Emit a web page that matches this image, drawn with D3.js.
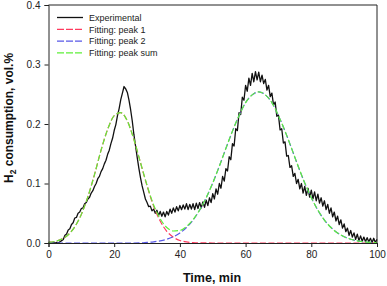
<!DOCTYPE html>
<html><head><meta charset="utf-8">
<script src="https://cdn.jsdelivr.net/npm/d3@7"></script>
<style>
html,body{margin:0;padding:0;background:#fff;}
svg{display:block;font-family:"Liberation Sans",Arial,sans-serif;}
</style></head>
<body>
<svg id="chart" width="387" height="286"></svg>
<script>
// Experimental signal, sampled every 0.5 min from 0 to 100 min
const expStart = 0, expStep = 0.5;
const expValues = [
0.000,0.001,0.000,0.001,0.000,0.001,0.000,0.002,0.004,0.006,
0.013,0.015,0.022,0.024,0.031,0.034,0.042,0.043,0.050,0.052,
0.058,0.059,0.066,0.068,0.074,0.077,0.084,0.088,0.095,0.100,
0.108,0.112,0.120,0.125,0.133,0.139,0.149,0.156,0.167,0.176,
0.189,0.199,0.214,0.226,0.241,0.252,0.263,0.259,0.253,0.240,
0.224,0.205,0.182,0.163,0.144,0.126,0.110,0.096,0.085,0.074,
0.068,0.061,0.062,0.054,0.057,0.050,0.055,0.046,0.053,0.045,
0.052,0.044,0.053,0.047,0.057,0.050,0.059,0.052,0.061,0.054,
0.063,0.056,0.064,0.057,0.066,0.056,0.065,0.057,0.066,0.056,
0.067,0.058,0.068,0.059,0.069,0.060,0.072,0.063,0.076,0.068,
0.083,0.074,0.091,0.082,0.100,0.092,0.112,0.104,0.125,0.121,
0.145,0.140,0.167,0.163,0.192,0.189,0.219,0.216,0.245,0.240,
0.265,0.255,0.277,0.265,0.285,0.271,0.288,0.274,0.287,0.271,
0.282,0.268,0.275,0.257,0.265,0.246,0.252,0.232,0.237,0.213,
0.215,0.190,0.192,0.168,0.170,0.146,0.147,0.127,0.130,0.112,
0.117,0.100,0.107,0.091,0.100,0.084,0.095,0.080,0.092,0.077,
0.089,0.074,0.086,0.071,0.082,0.067,0.076,0.062,0.071,0.056,
0.065,0.050,0.059,0.044,0.052,0.037,0.045,0.031,0.039,0.025,
0.032,0.019,0.025,0.013,0.021,0.010,0.017,0.006,0.015,0.004,
0.012,0.003,0.010,0.002,0.009,0.002,0.008,0.001,0.008,0.001,
0.006];

// Fitted curves, sampled every 2 min from 0 to 100 min
const fitTimes = [0,2,4,6,8,10,12,14,16,18,20,22,24,26,28,30,32,34,36,38,40,42,44,46,48,50,
  52,54,56,58,60,62,64,66,68,70,72,74,76,78,80,82,84,86,88,90,92,94,96,98,100];
const peak1 = [0.0011,0.0028,0.0065,0.0139,0.0272,0.0481,0.078,0.115,0.156,0.191,0.214,0.219,0.205,
  0.174,0.135,0.096,0.062,0.037,0.0197,0.0097,0.0043,0.0018,0.0007,0.0002,0.0001,0,
  0,0,0,0,0,0,0,0,0,0,0,0,0,0,0,0,0,0,0,0,0,0,0,0,0];
const peak2 = [0,0,0,0,0,0,0,0,0,0,0,0,0,0,0.0002,0.0011,0.0020,0.0037,0.0063,0.0105,0.0168,0.026,
  0.0386,0.0552,0.076,0.101,0.129,0.159,0.188,0.214,0.236,0.249,0.254,0.249,0.236,0.214,0.188,
  0.159,0.129,0.101,0.076,0.0552,0.0386,0.026,0.0168,0.0105,0.0063,0.0037,0.0020,0.0011,0.0005];
const peakSum = [0.0011,0.0028,0.0065,0.0139,0.0272,0.0481,0.078,0.115,0.156,0.191,0.214,0.219,0.205,
  0.174,0.1352,0.0971,0.064,0.0407,0.026,0.0202,0.0211,0.0278,0.0393,0.0554,0.0761,0.101,
  0.129,0.159,0.188,0.214,0.236,0.249,0.254,0.249,0.236,0.214,0.188,0.159,0.129,0.101,0.076,
  0.0552,0.0386,0.026,0.0168,0.0105,0.0063,0.0037,0.0020,0.0011,0.0005];

const xTicks = [0,20,40,60,80,100];
const yTicks = [0.0,0.1,0.2,0.3,0.4];
const legendLabels = ["Experimental","Fitting: peak 1","Fitting: peak 2","Fitting: peak sum"];

const colors = {exp:"#111111", p1:"#ff3a5e", p2:"#5858e8", sum:"#5ef03a"};

const svg = d3.select("#chart");
const x = d3.scaleLinear().domain([0,100]).range([48.5,377]);
const y = d3.scaleLinear().domain([0,0.4]).range([243,5]);

// series
const expData = expValues.map((v,i)=>[expStart + i*expStep, v]);
const line = d3.line().x(d=>x(d[0])).y(d=>y(d[1]));
const smooth = d3.line().x(d=>x(d[0])).y(d=>y(d[1])).curve(d3.curveMonotoneX);

const plot = svg.append("g");
plot.append("path").datum(expData).attr("d", line)
  .attr("fill","none").attr("stroke",colors.exp).attr("stroke-width",1.3).attr("stroke-linejoin","round");

const fits = [[peak1, colors.p1],[peak2, colors.p2],[peakSum, colors.sum]];
fits.forEach(([vals,c])=>{
  plot.append("path").datum(fitTimes.map((t,i)=>[t, vals[i]])).attr("d", smooth)
    .attr("fill","none").attr("stroke",c).attr("stroke-width",1.2).attr("stroke-dasharray","6,2.5");
});

// axes
const xAxis = svg.append("g").attr("transform","translate(0,243)")
  .call(d3.axisBottom(x).tickValues(xTicks).tickSize(4).tickPadding(4).tickFormat(d3.format("d")));
const yAxis = svg.append("g").attr("transform","translate(48.5,0)")
  .call(d3.axisLeft(y).tickValues(yTicks).tickSize(4).tickPadding(4).tickFormat(d3.format(".1f")));
[xAxis,yAxis].forEach(a=>{
  a.select(".domain").attr("stroke","#222").attr("stroke-width",1);
  a.selectAll(".tick line").attr("stroke","#222");
  a.selectAll(".tick text").attr("font-size","10px").attr("fill","#222")
   .attr("font-family","'Liberation Sans',Arial,sans-serif");
});
// top & right frame
svg.append("line").attr("x1",x(0)).attr("x2",x(100)).attr("y1",y(0.4)).attr("y2",y(0.4)).attr("stroke","#222");
svg.append("line").attr("x1",x(100)).attr("x2",x(100)).attr("y1",y(0.4)).attr("y2",y(0)).attr("stroke","#222");

// axis titles
svg.append("text").attr("x",212).attr("y",282).attr("text-anchor","middle")
  .attr("font-size","12.5px").attr("font-weight","bold").attr("fill","#111").text("Time, min");
const yt = svg.append("text").attr("transform","translate(13,118) rotate(-90)").attr("text-anchor","middle")
  .attr("font-size","12px").attr("font-weight","bold").attr("fill","#111");
yt.append("tspan").text("H");
yt.append("tspan").attr("font-size","8.5px").attr("dy","3").text("2");
yt.append("tspan").attr("dy","-3").text(" consumption, vol.%");

// legend
const legColors = [colors.exp, colors.p1, colors.p2, colors.sum];
const leg = svg.append("g");
legendLabels.forEach((lab,i)=>{
  const ly = 17.5 + i*11.8;
  leg.append("line").attr("x1",57).attr("x2",83).attr("y1",ly).attr("y2",ly)
    .attr("stroke",legColors[i]).attr("stroke-width",1.3)
    .attr("stroke-dasharray", i===0 ? null : "7,2");
  leg.append("text").attr("x",89).attr("y",ly+3.2).attr("font-size","9px").attr("fill","#222").text(lab);
});
</script>
</body></html>
